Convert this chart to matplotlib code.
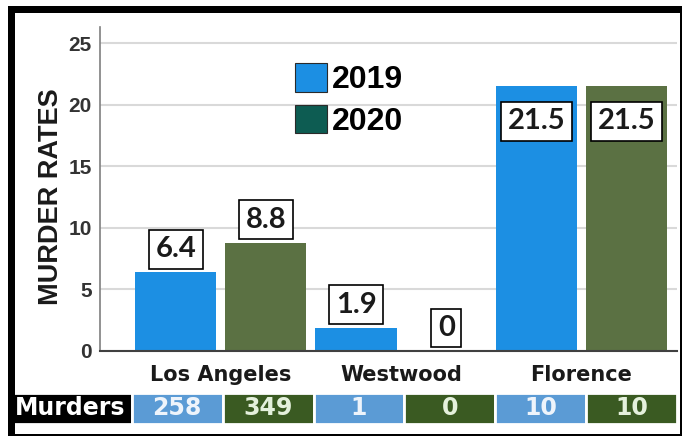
import numpy as np
import matplotlib
matplotlib.use("Agg")
import matplotlib.pyplot as plt
from matplotlib.patches import Patch, Rectangle

# data
places = ["Los Angeles", "Westwood", "Florence"]
rate_2019 = [6.4, 1.9, 21.5]
rate_2020 = [8.8, 0, 21.5]
murders_2019 = [258, 1, 10]
murders_2020 = [349, 0, 10]
years = ["2019", "2020"]
y_ticks = [0, 5, 10, 15, 20, 25]

blue = "#1c8fe3"
olive = "#5b7143"
teal = "#0d5c52"
cell_blue = "#5b9bd5"
cell_green = "#3a5a22"

W, H = 684, 438
fig = plt.figure(figsize=(W / 100, H / 100), dpi=100)
ax = fig.add_axes([100 / W, 1 - 351 / H, 577 / W, 324 / H])

x = np.arange(len(places))
ax.bar(x - 0.25, rate_2019, width=0.45, color=blue, zorder=2)
ax.bar(x + 0.25, rate_2020, width=0.45, color=olive, zorder=2)
ax.set_xlim(-0.67, 2.53)
ax.set_ylim(0, 26.3)

# value labels in white boxes
box = dict(boxstyle="square,pad=0.22", fc="white", ec="black", lw=1.2)
for xs, vals in [(x - 0.25, rate_2019), (x + 0.25, rate_2020)]:
    for xi, v in zip(xs, vals):
        lab = "%g" % v
        if v > 20:
            ax.annotate(lab, (xi, v), xytext=(0, -22), textcoords="offset pixels",
                        ha="center", va="top", fontsize=21, fontweight="bold",
                        family="Lato", color="#1a1a1a", bbox=box, zorder=4)
        else:
            ax.annotate(lab, (xi, v), xytext=(0, 10), textcoords="offset pixels",
                        ha="center", va="bottom", fontsize=21, fontweight="bold",
                        family="Lato", color="#1a1a1a", bbox=box, zorder=4)

ax.set_yticks(y_ticks)
ax.set_yticklabels([str(t) for t in y_ticks], fontsize=15, fontweight="bold",
                   family="Liberation Sans", color="#333333")
ax.set_xticks(x)
ax.set_xticklabels(places, fontsize=15, fontweight="bold", family="DejaVu Sans",
                   color="#1a1a1a")
ax.tick_params(axis="y", length=0, pad=6)
ax.tick_params(axis="x", length=0, pad=10)
ax.grid(axis="y", color="#d9d9d9", lw=1.5)
ax.set_axisbelow(True)
for s in ["top", "right"]:
    ax.spines[s].set_visible(False)
ax.spines["left"].set_color("#7f7f7f")
ax.spines["left"].set_linewidth(1.2)
ax.spines["bottom"].set_color("#404040")
ax.spines["bottom"].set_linewidth(1.5)

ax.set_ylabel("MURDER RATES", fontsize=19.5, fontweight="bold",
              family="Liberation Sans", color="#1a1a1a")
ax.yaxis.set_label_coords(-0.062, 0.475)

handles = [Patch(facecolor=blue, edgecolor="#2a2a2a", lw=0.8),
           Patch(facecolor=teal, edgecolor="#2a2a2a", lw=0.8)]
ax.legend(handles, years, loc="upper left", bbox_to_anchor=(0.31, 0.938),
          frameon=False, borderpad=0, handlelength=1.0, handleheight=1.0,
          handletextpad=0.15, labelspacing=0.3,
          prop=dict(family="Liberation Sans", weight="bold", size=23))

# murders table under the axis
row = ["Murders"]
colours = ["black"]
for a, b in zip(murders_2019, murders_2020):
    row += [str(a), str(b)]
    colours += [cell_blue, cell_green]
tab = ax.table(cellText=[row], cellColours=[colours],
               colWidths=[123] + [91] * 6, cellLoc="center",
               bbox=[-0.1577, -0.2253, 1.1577, 0.0957])
tab.auto_set_font_size(False)
for (r, c), cell in tab.get_celld().items():
    cell.set_edgecolor("white")
    cell.set_linewidth(2)
    t = cell.get_text()
    t.set_fontsize(17)
    t.set_fontweight("bold")
    t.set_family("DejaVu Sans")
    if c == 0:
        t.set_color("white")
    elif c % 2 == 1:
        t.set_color("#eef4fb")
    else:
        t.set_color("#e4f0dc")

# black frame round the picture
def frame(x0, y0, x1, y1):
    fig.add_artist(Rectangle((x0 / W, 1 - y1 / H), (x1 - x0) / W, (y1 - y0) / H,
                             transform=fig.transFigure, color="black", lw=0))

frame(8, 6, 682, 13)
frame(8, 6, 15, 436)
frame(680, 6, 682, 436)
frame(8, 434, 682, 436)

fig.savefig("out.png", dpi=100)
